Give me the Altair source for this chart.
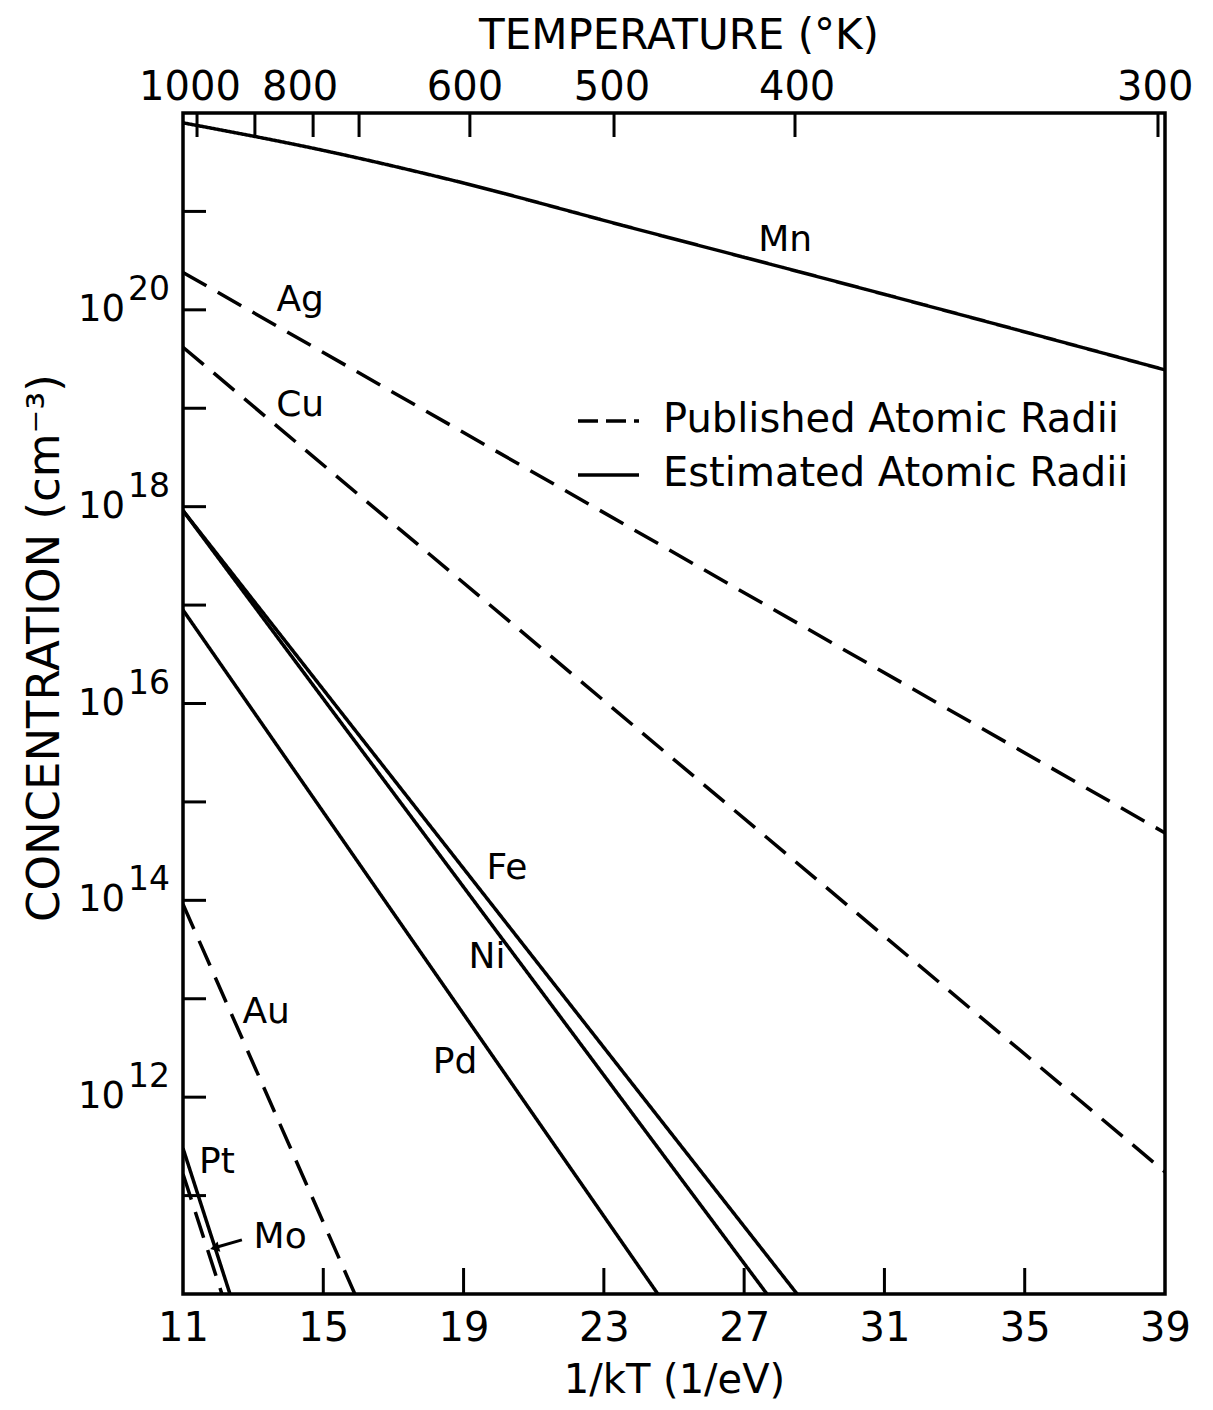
import altair as alt
import pandas as pd

FONT = "DejaVu Sans"

# ---------------- data ----------------
# x = 1/kT (1/eV), log = log10(concentration in cm^-3)
elements = ["Mn", "Ag", "Cu", "Fe", "Ni", "Pd", "Au", "Pt", "Mo"]
styles = ["Estimated", "Published", "Published", "Estimated", "Estimated",
          "Estimated", "Published", "Estimated", "Published"]
mn_x = [11.0, 15.0, 18.53, 23.83, 28.11, 32.87, 39.0]
mn_log = [21.90, 21.62, 21.33, 20.83, 20.43, 19.98, 19.39]
ag_x = [11.0, 39.0]
ag_log = [20.38, 14.685]
cu_x = [11.0, 39.0]
cu_log = [19.62, 11.24]
fe_x = [11.0, 28.51]
fe_log = [17.96, 10.0]
ni_x = [11.0, 27.65]
ni_log = [17.96, 10.0]
pd_x = [11.0, 24.54]
pd_log = [16.95, 10.0]
au_x = [11.0, 15.90]
au_log = [13.96, 10.0]
pt_x = [11.0, 12.34]
pt_log = [11.48, 10.0]
mo_x = [11.0, 12.11]
mo_log = [11.22, 10.0]
series_x = [mn_x, ag_x, cu_x, fe_x, ni_x, pd_x, au_x, pt_x, mo_x]
series_log = [mn_log, ag_log, cu_log, fe_log, ni_log, pd_log, au_log, pt_log, mo_log]

# curve labels
ann_text = ["Mn", "Ag", "Cu", "Fe", "Ni", "Pd", "Au", "Pt", "Mo"]
ann_x = [28.17, 14.34, 14.34, 20.24, 19.67, 18.76, 13.37, 11.97, 13.77]
ann_log = [20.71, 20.10, 19.03, 14.33, 13.42, 12.36, 12.87, 11.34, 10.58]
# Mo leader
mo_lead_x = [12.68, 11.90]
mo_lead_log = [10.55, 10.47]

# axes
bottom_vals = [11, 15, 19, 23, 27, 31, 35, 39]
bottom_tick_vals = [15, 19, 23, 27, 31, 35]
ytick_decades = [11, 12, 13, 14, 15, 16, 17, 18, 19, 20, 21]
ylabel_decades = [12, 14, 16, 18, 20]
top_tick_x = [11.40, 13.05, 14.71, 16.02, 19.18, 23.29, 28.45, 38.80]
top_label_T = ["1000", "800", "600", "500", "400", "300"]
top_label_x = [11.20, 14.34, 19.04, 23.23, 28.51, 38.72]

legend_labels = ["Published Atomic Radii", "Estimated Atomic Radii"]
x_title = "1/kT (1/eV)"
y_title = "CONCENTRATION (cm⁻³)"
top_title = "TEMPERATURE (°K)"

# ---------------- tables ----------------
rows = []
for el, st, xs_, ls_ in zip(elements, styles, series_x, series_log):
    for i, (xv, lv) in enumerate(zip(xs_, ls_)):
        rows.append({"element": el, "style": st, "x": xv, "conc": 10 ** lv, "i": i})
df = pd.DataFrame(rows)

ann_df = pd.DataFrame({"t": ann_text, "x": ann_x, "conc": [10 ** v for v in ann_log]})
lead_df = pd.DataFrame({"x": [mo_lead_x[0]], "x2": [mo_lead_x[1]],
                        "conc": [10 ** mo_lead_log[0]], "conc2": [10 ** mo_lead_log[1]]})
tip_df = pd.DataFrame({"x": [mo_lead_x[1]], "conc": [10 ** mo_lead_log[1]]})
btick_df = pd.DataFrame({"x": bottom_tick_vals})
ttick_df = pd.DataFrame({"x": top_tick_x})
tlab_df = pd.DataFrame({"x": top_label_x, "t": top_label_T})
ytick_df = pd.DataFrame({"conc": [10 ** d for d in ytick_decades]})
ylab_df = pd.DataFrame({"conc": [10 ** d for d in ylabel_decades],
                        "exp": [str(d) for d in ylabel_decades]})
one = pd.DataFrame({"a": [0]})

W, H = 982, 1181

xs = alt.Scale(domain=[11, 39], nice=False, zero=False)
ys = alt.Scale(type="log", domain=[1e10, 1e22], nice=False)
x_axis = alt.Axis(values=bottom_vals, format="d", labelFontSize=40, labelPadding=14,
                  labelFont=FONT, labelColor="black", labelFlush=False,
                  title=x_title, titleFont=FONT, titleFontSize=40, titleFontWeight="normal",
                  titleColor="black", titlePadding=12,
                  grid=False, domain=False, ticks=False)
y_axis = alt.Axis(labels=False, ticks=False, domain=False, grid=False, title="")

X = alt.X("x:Q", scale=xs, axis=x_axis)
Y = alt.Y("conc:Q", scale=ys, axis=y_axis)

lines = alt.Chart(df).mark_line(color="black", strokeWidth=3.5, clip=True,
                                interpolate="monotone").encode(
    x=X, y=Y, detail="element:N", order="i:Q",
    strokeDash=alt.StrokeDash("style:N", legend=None,
                              scale=alt.Scale(domain=["Published", "Estimated"],
                                              range=[[27, 13], [1, 0]])),
)

ann = alt.Chart(ann_df).mark_text(font=FONT, fontSize=36, color="black").encode(
    x=X, y=Y, text="t:N")

lead = alt.Chart(lead_df).mark_rule(color="black", strokeWidth=3).encode(
    x=X, x2="x2:Q", y=Y, y2="conc2:Q")
tip = alt.Chart(tip_df).mark_point(shape="triangle-left", filled=True, color="black",
                                   size=110, opacity=1, angle=345).encode(x=X, y=Y)

bticks = alt.Chart(btick_df).mark_rule(color="black", strokeWidth=3).encode(
    x=X, y=alt.value(H), y2=alt.value(H - 26))
tticks = alt.Chart(ttick_df).mark_rule(color="black", strokeWidth=3).encode(
    x=X, y=alt.value(0), y2=alt.value(24))
tlabels = alt.Chart(tlab_df).mark_text(font=FONT, fontSize=40, color="black",
                                       baseline="middle").encode(
    x=X, y=alt.value(-25), text="t:N")
ttitle = alt.Chart(one).mark_text(font=FONT, fontSize=42, color="black",
                                  baseline="middle").encode(
    x=alt.value(W / 2 + 5), y=alt.value(-77), text=alt.value(top_title))

yticks = alt.Chart(ytick_df).mark_rule(color="black", strokeWidth=3).encode(
    y=Y, x=alt.value(0), x2=alt.value(23))
ylab10 = alt.Chart(ylab_df).mark_text(font=FONT, fontSize=37, color="black",
                                      align="right", baseline="middle").encode(
    y=Y, x=alt.value(-58), text=alt.value("10"))
ylabexp = alt.Chart(ylab_df).mark_text(font=FONT, fontSize=33, color="black",
                                       align="left", baseline="middle", dy=-20).encode(
    y=Y, x=alt.value(-55), text="exp:N")
ytitle = alt.Chart(one).mark_text(font=FONT, fontSize=45, color="black", angle=270,
                                  baseline="middle").encode(
    x=alt.value(-138), y=alt.value(535), text=alt.value(y_title))

# legend
leg_pub = alt.Chart(one).mark_rule(color="black", strokeWidth=3.5, strokeDash=[20, 8]).encode(
    x=alt.value(395), x2=alt.value(456), y=alt.value(308))
leg_est = alt.Chart(one).mark_rule(color="black", strokeWidth=3.5).encode(
    x=alt.value(395), x2=alt.value(456), y=alt.value(362))
leg_t1 = alt.Chart(one).mark_text(font=FONT, fontSize=40, color="black", align="left",
                                  baseline="middle").encode(
    x=alt.value(480), y=alt.value(307), text=alt.value(legend_labels[0]))
leg_t2 = alt.Chart(one).mark_text(font=FONT, fontSize=40, color="black", align="left",
                                  baseline="middle").encode(
    x=alt.value(480), y=alt.value(361), text=alt.value(legend_labels[1]))

chart = alt.layer(
    lines, ann, lead, tip, bticks, tticks, tlabels, ttitle,
    yticks, ylab10, ylabexp, ytitle, leg_pub, leg_est, leg_t1, leg_t2
).properties(
    width=W, height=H,
    padding={"left": 175, "top": 105, "right": 40, "bottom": 108},
    autosize=alt.AutoSizeParams(type="none"),
    background="white",
).configure_view(stroke="black", strokeWidth=3.5)

chart.save("out.html", embed_options={"renderer": "svg", "actions": False})
